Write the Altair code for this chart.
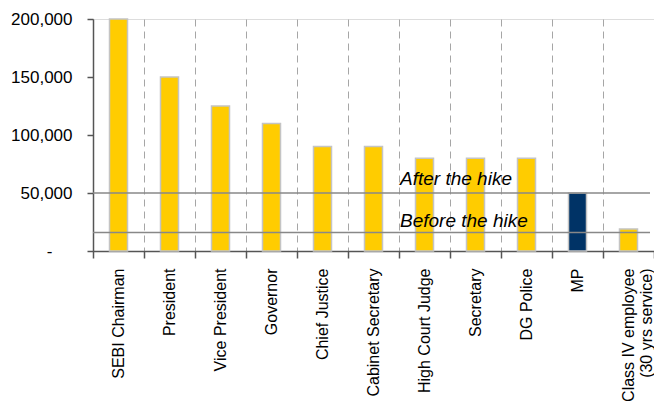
import altair as alt
import pandas as pd

categories = ["SEBI Chairman", "President", "Vice President", "Governor",
              "Chief Justice", "Cabinet Secretary", "High Court Judge",
              "Secretary", "DG Police", "MP",
              "Class IV employee\n(30 yrs service)"]
salaries = [200000, 150000, 125000, 110000, 90000, 90000, 80000, 80000, 80000, 50000, 19000]
highlight = [False, False, False, False, False, False, False, False, False, True, False]

ref_labels = ["After the hike", "Before the hike"]
ref_values = [50000, 16000]
ref_anchor = ["High Court Judge", "High Court Judge"]

y_ticks = [0, 50000, 100000, 150000, 200000]

df = pd.DataFrame({"cat": categories, "salary": salaries, "mp": highlight})
refs = pd.DataFrame({"label": ref_labels, "value": ref_values, "cat": ref_anchor})

W = 561
H = 232

xenc = alt.X("cat:N", sort=categories, title=None,
             scale=alt.Scale(paddingInner=0, paddingOuter=0),
             axis=alt.Axis(labelAngle=-90, labelAlign="right", labelBaseline="middle",
                           labelFont="Liberation Sans", labelFontSize=16, labelColor="#000000",
                           labelPadding=10, tickSize=7, tickColor="#555555", tickWidth=1.5,
                           tickBand="extent", domainColor="#555555", domainWidth=1.5,
                           grid=True, gridColor="#A6A6A6", gridDash=[7, 5], gridWidth=1,
                           labelExpr="split(datum.label, '\\n')", labelLineHeight=18,
                           labelLimit=300))

yscale = alt.Scale(domain=[0, 200000], nice=False)

bars = alt.Chart(df).mark_bar(size=18, stroke="#C4C4C4", strokeWidth=1.5).encode(
    x=xenc,
    y=alt.Y("salary:Q", scale=yscale, title=None,
            axis=alt.Axis(values=y_ticks, grid=False, labelFont="Liberation Sans",
                          labelFontSize=17, labelColor="#000000",
                          labelPadding={"condition": {"test": "datum.value == 0", "value": 35}, "value": 15},
                          tickSize=6, tickColor="#555555", tickWidth=1.5,
                          domainColor="#555555", domainWidth=1.5,
                          labelExpr="datum.value == 0 ? '-' : format(datum.value, ',')")),
    color=alt.condition("datum.mp", alt.value("#003366"), alt.value("#FFCC00")),
)

rules = alt.Chart(refs).mark_rule(color="#888888", strokeWidth=1.5).encode(
    y=alt.Y("value:Q", scale=yscale),
    x=alt.value(0),
    x2=alt.value(W - 4),
)

text_after = alt.Chart(refs).transform_filter(alt.datum.label == ref_labels[0]).mark_text(
    align="left", baseline="alphabetic", dy=-8, dx=1, font="Liberation Sans",
    fontStyle="italic", fontSize=19, color="#000000").encode(
    x=alt.X("cat:N", sort=categories, bandPosition=0),
    y=alt.Y("value:Q", scale=yscale),
    text="label:N",
)
text_before = alt.Chart(refs).transform_filter(alt.datum.label == ref_labels[1]).mark_text(
    align="left", baseline="alphabetic", dy=-5, dx=1, font="Liberation Sans",
    fontStyle="italic", fontSize=19, color="#000000").encode(
    x=alt.X("cat:N", sort=categories, bandPosition=0),
    y=alt.Y("value:Q", scale=yscale),
    text="label:N",
)

chart = alt.layer(bars, rules, text_after, text_before).properties(
    width=W, height=H,
    autosize=alt.AutoSizeParams(type="none"),
    padding={"left": 85, "top": 11, "right": 0, "bottom": 150},
).configure_view(stroke=None).configure(background="#FFFFFF")

chart.save("out.html", embed_options={"renderer": "svg", "actions": False})
